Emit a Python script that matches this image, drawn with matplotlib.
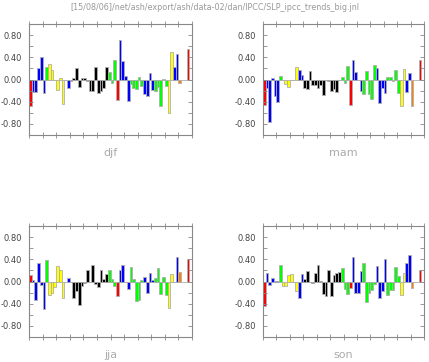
import numpy as np
import matplotlib
matplotlib.use("Agg")
import matplotlib.pyplot as plt

nan = np.nan

title = "[15/08/06]/net/ash/export/ash/data-02/dan/IPCC/SLP_ipcc_trends_big.jnl"
seasons = ["djf", "mam", "jja", "son"]

# colour of every station slot (same in all four panels), None = empty slot
slot_colors = (
    ["red"] + ["blue"] * 5 + ["green"] + ["yellow"] * 6 + ["blue"] * 2
    + ["black"] * 14 + ["green"] * 3 + ["red"] + ["blue"] * 4 + ["green"] * 5
    + ["blue"] * 4 + ["green"] * 5 + ["yellow"] * 2 + ["blue"] * 2
    + ["orange"] + [None, None] + ["red"] + [None]
)

djf = [-0.47, -0.23, -0.22, 0.21, 0.41, -0.24, 0.22, 0.28, 0.17, 0.00,
       -0.19, 0.02, -0.44, 0.00, -0.16, -0.02, 0.02, 0.21, -0.14, 0.02,
       0.02, -0.03, -0.20, -0.20, 0.22, -0.25, -0.20, -0.15, 0.22, 0.13,
       -0.06, 0.36, -0.37, 0.71, 0.33, 0.06, -0.38, -0.09, -0.16, -0.18,
       0.05, -0.12, -0.27, -0.29, 0.11, -0.19, -0.21, -0.13, -0.47, 0.01,
       -0.11, -0.60, 0.50, 0.23, 0.46, -0.06, nan, nan, 0.55, nan]

mam = [-0.46, -0.15, -0.77, 0.03, -0.29, -0.40, 0.06, 0.00, -0.08, -0.13,
       0.00, -0.01, 0.22, 0.17, 0.08, -0.15, -0.18, 0.16, -0.10, -0.10,
       -0.15, -0.10, -0.28, 0.00, -0.03, -0.20, -0.18, -0.23, 0.00, 0.04,
       -0.07, 0.25, -0.46, 0.36, 0.14, 0.00, -0.20, -0.27, 0.16, -0.27,
       -0.35, 0.27, 0.21, -0.43, -0.15, -0.25, 0.04, 0.04, -0.02, 0.17,
       -0.25, -0.47, 0.19, -0.23, 0.11, -0.47, nan, nan, 0.35, nan]

jja = [0.12, 0.02, -0.34, 0.33, -0.07, -0.50, 0.38, -0.24, -0.20, -0.10,
       0.28, 0.20, -0.30, 0.00, 0.06, 0.00, -0.30, -0.17, -0.42, -0.08,
       -0.02, 0.20, 0.00, 0.30, -0.05, -0.10, 0.20, 0.05, 0.14, 0.20,
       0.04, -0.08, -0.26, 0.20, 0.29, 0.00, -0.14, 0.26, 0.04, -0.35,
       -0.33, 0.03, 0.09, -0.20, 0.15, 0.02, 0.07, 0.25, -0.22, 0.09,
       -0.25, -0.47, 0.14, 0.00, 0.44, 0.18, nan, nan, 0.40, nan]

son = [-0.44, 0.15, -0.07, 0.07, 0.01, 0.01, 0.30, -0.09, -0.09, 0.11,
       0.14, 0.00, -0.18, -0.30, 0.13, 0.05, 0.19, 0.00, -0.03, 0.15,
       0.29, 0.01, -0.22, -0.27, 0.20, -0.26, 0.12, 0.15, 0.18, 0.24,
       -0.13, -0.22, -0.12, 0.45, -0.21, -0.20, 0.19, 0.34, -0.37, -0.20,
       -0.15, -0.04, 0.28, -0.30, -0.18, 0.40, -0.25, -0.15, -0.15, 0.26,
       0.10, -0.24, 0.16, 0.34, 0.48, -0.11, nan, nan, 0.20, nan]

values = [djf, mam, jja, son]
ytick_vals = [0.8, 0.4, 0.0, -0.4, -0.8]
ytick_labels = ["0.80", "0.40", "0.00", "-0.40", "-0.80"]

color_map = {"red": "#ff0000", "blue": "#0000ff", "green": "#00ff00",
             "yellow": "#ffff00", "black": "#000000", "orange": "#ff8000",
             None: "none"}

W, H = 429, 362
fig = plt.figure(figsize=(W / 100, H / 100), dpi=100)
fig.text(0.5, 1 - 7 / H, title, ha="center", va="center",
         fontsize=5.8, color="#999999")

# panel boxes in pixels: left, top, width, height
boxes = [(29, 24, 163, 111), (263, 24, 161, 111),
         (29, 226, 163, 111), (263, 226, 161, 111)]

for name, vals, (px, py, pw, ph) in zip(seasons, values, boxes):
    ax = fig.add_axes([px / W, 1 - (py + ph) / H, pw / W, ph / H])
    x = np.arange(len(vals)) + 0.5
    v = np.array(vals, dtype=float)
    ok = ~np.isnan(v)
    cols = np.array([color_map[c] for c in slot_colors])
    ax.bar(x[ok], v[ok], width=1.0, color=cols[ok],
           edgecolor="#b0b0b0", linewidth=0.6)
    ax.axhline(0, color="#b0b0b0", linewidth=0.6, zorder=0)
    ax.set_xlim(0, 60)
    ax.set_ylim(-1, 1)
    ax.set_xticks(np.arange(0, 61, 5))
    ax.set_xticklabels([])
    ax.set_yticks(ytick_vals)
    ax.set_yticklabels(ytick_labels)
    ax.set_yticks(np.arange(-1, 1.01, 0.2), minor=True)
    ax.tick_params(axis="y", which="both", direction="in", length=3,
                   width=0.6, color="#888888", right=True,
                   labelsize=6, labelcolor="#444444", pad=5)
    ax.tick_params(axis="x", which="major", direction="inout", length=4,
                   width=0.6, color="#888888", top=True)
    for side in ax.spines.values():
        side.set_color("#888888")
        side.set_linewidth(0.8)
    ax.text(0.5, -18 / ph, name, transform=ax.transAxes, ha="center",
            va="center", fontsize=8, color="#aaaaaa")

fig.savefig("out.png", dpi=100)
